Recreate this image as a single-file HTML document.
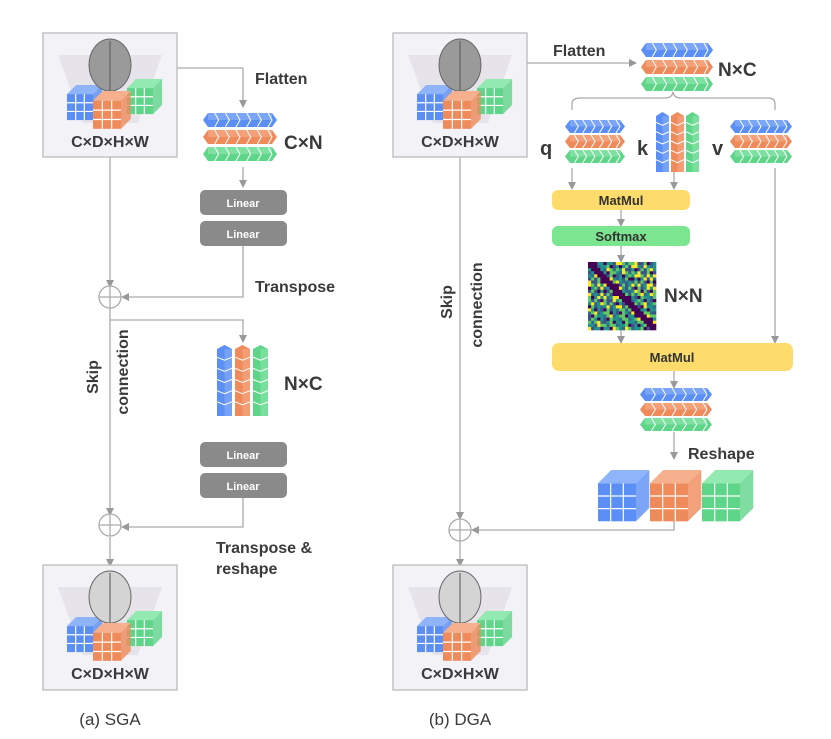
<!DOCTYPE html><html><head><meta charset="utf-8"><style>body{margin:0;background:#fff}svg{display:block;font-family:"Liberation Sans",sans-serif}</style></head><body>
<svg id="s" width="831" height="739" viewBox="0 0 831 739" xmlns="http://www.w3.org/2000/svg">
<defs><marker id="a" markerWidth="8" markerHeight="8" refX="4" refY="4" orient="auto" markerUnits="userSpaceOnUse"><path d="M0,0L8,4L0,8z" fill="#999"/></marker></defs>
<g id="g" stroke="#aaa" stroke-width="1.3" fill="none">
<path d="M177,68H243V104" marker-end="url(#a)"/>
<path d="M243,167V184" marker-end="url(#a)"/>
<path d="M243,246V297H125" marker-end="url(#a)"/>
<path d="M110,157V284" marker-end="url(#a)"/>
<path d="M110,308V512" marker-end="url(#a)"/>
<path d="M110,320H243V339" marker-end="url(#a)"/>
<path d="M243,498V527H125" marker-end="url(#a)"/>
<path d="M110,537V563" marker-end="url(#a)"/>
<circle cx="110" cy="297" r="11"/><path d="M99,297H121M110,286V308"/>
<circle cx="110" cy="525" r="11"/><path d="M99,525H121M110,514V536"/>
<path d="M527,63H633" marker-end="url(#a)"/>
<path d="M572,110V104Q572,98 580,98H665Q672,98 673,92Q674,98 681,98H768Q775,98 775,104V110"/>
<path d="M572,168V186" marker-end="url(#a)"/>
<path d="M674,172V186" marker-end="url(#a)"/>
<path d="M621,210V223" marker-end="url(#a)"/>
<path d="M621,246V259" marker-end="url(#a)"/>
<path d="M621,330V340" marker-end="url(#a)"/>
<path d="M775,168V340" marker-end="url(#a)"/>
<path d="M674,371V385" marker-end="url(#a)"/>
<path d="M674,432V456" marker-end="url(#a)"/>
<path d="M674,515V530H475" marker-end="url(#a)"/>
<path d="M460,157V516" marker-end="url(#a)"/>
<path d="M460,541V563" marker-end="url(#a)"/>
<circle cx="460" cy="530" r="11"/><path d="M449,530H471M460,519V541"/>
</g>
<g fill="#f3f2f6" stroke="#bbb" stroke-width="1.3">
<rect x="43" y="33" width="134" height="124"/><rect x="43" y="565" width="134" height="125"/>
<rect x="393" y="33" width="134" height="124"/><rect x="393" y="565" width="134" height="125"/>
</g>
<g id="dyn"></g>
<g fill="#8a8a8a"><rect x="200" y="190" width="87" height="25" rx="5"/><rect x="200" y="221" width="87" height="25" rx="5"/><rect x="200" y="442" width="87" height="25" rx="5"/><rect x="200" y="473" width="87" height="25" rx="5"/></g>
<rect x="552" y="190" width="138" height="20" rx="6" fill="#fedc6b"/>
<rect x="552" y="226" width="138" height="20" rx="6" fill="#7be58f"/>
<rect x="552" y="343" width="241" height="28" rx="7" fill="#fedc6b"/>
<g font-size="11" font-weight="bold" fill="#fff" text-anchor="middle"><text x="243" y="207">Linear</text><text x="243" y="238">Linear</text><text x="243" y="459">Linear</text><text x="243" y="490">Linear</text></g>
<g font-weight="bold" fill="#333" font-size="13" text-anchor="middle"><text x="621" y="205">MatMul</text><text x="621" y="241">Softmax</text><text x="672" y="362">MatMul</text></g>
<g font-weight="bold" fill="#3a3a3a" font-size="16">
<text x="255" y="84">Flatten</text><text x="255" y="292">Transpose</text><text x="216" y="553">Transpose &amp;</text><text x="216" y="574">reshape</text>
<text x="553" y="56">Flatten</text><text x="688" y="459">Reshape</text>
<text x="284" y="149" font-size="19">C×N</text><text x="284" y="390" font-size="19">N×C</text>
<text x="718" y="76" font-size="19">N×C</text><text x="664" y="302" font-size="19">N×N</text>
<text x="540" y="155" font-size="20">q</text><text x="637" y="155" font-size="20">k</text><text x="712" y="155" font-size="20">v</text>
<text x="110" y="147" text-anchor="middle" font-size="16">C×D×H×W</text><text x="110" y="679" text-anchor="middle" font-size="16">C×D×H×W</text>
<text x="460" y="147" text-anchor="middle" font-size="16">C×D×H×W</text><text x="460" y="679" text-anchor="middle" font-size="16">C×D×H×W</text>
<text transform="translate(98,377) rotate(-90)" text-anchor="middle">Skip</text><text transform="translate(128,372) rotate(-90)" text-anchor="middle">connection</text>
<text transform="translate(452,302) rotate(-90)" text-anchor="middle">Skip</text><text transform="translate(482,305) rotate(-90)" text-anchor="middle">connection</text>
<text x="110" y="725" text-anchor="middle" font-weight="normal" font-size="17">(a) SGA</text><text x="460" y="725" text-anchor="middle" font-weight="normal" font-size="17">(b) DGA</text>
</g>
</svg>
<script>
var d=document.getElementById('dyn'),h='';
var C={b:['#5b8ff5','#8fb4fa'],o:['#ef8a5a','#f6b08e'],g:['#5fd58a','#93eab0']};
function strip(x,y,w,hh,c){var s=C[c];h+='<polygon points="'+x+','+(y+hh/2)+' '+(x+5)+','+y+' '+(x+w-5)+','+y+' '+(x+w)+','+(y+hh/2)+' '+(x+w-5)+','+(y+hh)+' '+(x+5)+','+(y+hh)+'" fill="'+s[0]+'"/>';h+='<rect x="'+(x+5)+'" y="'+y+'" width="'+(w-10)+'" height="'+(hh/2)+'" fill="'+s[1]+'" opacity=".6"/>';var n=6;for(var i=1;i<=n;i++){var cx=x+5+(w-10)*i/n;h+='<path d="M'+(cx-4)+','+y+'L'+cx+','+(y+hh/2)+'L'+(cx-4)+','+(y+hh)+'" stroke="#fff" stroke-width="1" fill="none"/>';}}
function strips(x,y,w,hh,g){strip(x,y,w,hh,'b');strip(x,y+hh+g,w,hh,'o');strip(x,y+2*(hh+g),w,hh,'g');}
function col(x,y,w,hh,c){var s=C[c];h+='<polygon points="'+x+','+(y+4)+' '+(x+w/2)+','+y+' '+(x+w)+','+(y+4)+' '+(x+w)+','+(y+hh)+' '+x+','+(y+hh)+'" fill="'+s[0]+'"/><rect x="'+(x+w/2)+'" y="'+(y+4)+'" width="'+(w/2)+'" height="'+(hh-4)+'" fill="'+s[1]+'" opacity=".5"/>';for(var i=1;i<6;i++){var cy=y+4+(hh-4)*i/6;h+='<path d="M'+x+','+(cy-3)+'L'+(x+w/2)+','+cy+'L'+(x+w)+','+(cy-3)+'" stroke="#fff" fill="none"/>';}}
function cube(x,y,s,c){var k=C[c],t=s*0.35;h+='<polygon points="'+x+','+(y+t)+' '+(x+t)+','+y+' '+(x+s+t)+','+y+' '+(x+s)+','+(y+t)+'" fill="'+k[1]+'"/><polygon points="'+(x+s)+','+(y+t)+' '+(x+s+t)+','+y+' '+(x+s+t)+','+(y+s)+' '+(x+s)+','+(y+s+t)+'" fill="'+k[0]+'" opacity=".8"/><rect x="'+x+'" y="'+(y+t)+'" width="'+s+'" height="'+s+'" fill="'+k[0]+'"/>';for(var i=1;i<3;i++){h+='<path d="M'+(x+s*i/3)+','+(y+t)+'V'+(y+t+s)+'M'+x+','+(y+t+s*i/3)+'H'+(x+s)+'" stroke="#fff" stroke-width="1.2"/>';}}
function icon(x,y,bright){h+='<polygon points="'+(x+15)+','+(y+22)+' '+(x+119)+','+(y+22)+' '+(x+95)+','+(y+90)+' '+(x+40)+','+(y+90)+'" fill="#e6e4ea"/>';cube(x+24,y+52,26,'b');cube(x+84,y+46,26,'g');h+='<ellipse cx="'+(x+67)+'" cy="'+(y+32)+'" rx="21" ry="26" fill="'+(bright?'#d4d4d4':'#9a9a9a')+'" stroke="#666"/><path d="M'+(x+67)+','+(y+8)+'V'+(y+58)+'" stroke="#555"/>';cube(x+50,y+58,28,'o');}
icon(43,33,0);icon(43,565,1);icon(393,33,0);icon(393,565,1);
strips(203,113,74,14,3);strips(641,43,72,14,3);strips(565,120,60,13,2);strips(730,120,62,13,2);strips(640,388,72,13,2);
col(217,345,15,71,'b');col(235,345,15,71,'o');col(253,345,15,71,'g');
col(656,112,13,60,'b');col(671,112,13,60,'o');col(686,112,13,60,'g');
cube(598,470,38,'b');cube(650,470,38,'o');cube(702,470,38,'g');
var vc=['#440154','#3b528b','#21918c','#5ec962','#fde725','#31688e'];var n=22,cs=68/n;
for(var i=0;i<n;i++)for(var j=0;j<n;j++){var v=(Math.sin(i*1.7+j*0.9)*Math.cos(j*1.3-i*0.4)+1)/2;if(Math.abs(i-j)<2)v=0.05;h+='<rect x="'+(588+j*cs)+'" y="'+(262+i*cs)+'" width="'+(cs+.3)+'" height="'+(cs+.3)+'" fill="'+vc[Math.floor(v*5.99)]+'"/>';}
d.innerHTML=h;
</script>
</body></html>
